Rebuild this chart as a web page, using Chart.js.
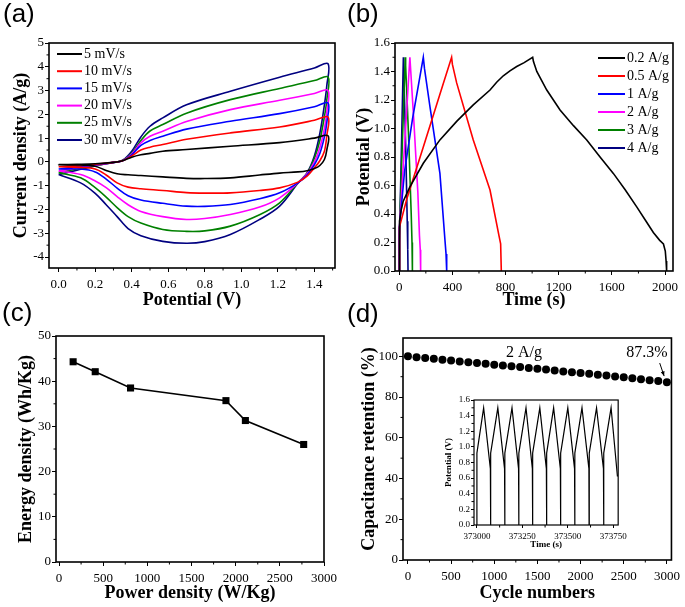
<!DOCTYPE html>
<html>
<head>
<meta charset="utf-8">
<script src="https://cdn.jsdelivr.net/npm/chart.js@4/dist/chart.umd.min.js"></script>
<style>
    html, body { margin: 0; padding: 0; background: #fff; }
    #fig { position: relative; width: 685px; height: 607px; overflow: hidden; background: #fff; }
    #fig canvas { position: absolute; }
    .tag { position: absolute; font-family: "Liberation Sans", Arial, sans-serif; font-size: 26px; line-height: 1; color: #000; }
</style>
</head>
<body>
<div id="fig">
    <canvas id="cv-chart" width="342" height="312" style="left:0;top:0"></canvas>
    <canvas id="gcd-chart" width="343" height="312" style="left:342px;top:0"></canvas>
    <canvas id="ragone-chart" width="342" height="307" style="left:0;top:300px"></canvas>
    <canvas id="cycle-chart" width="343" height="307" style="left:342px;top:300px"></canvas>
    <canvas id="inset-chart" width="200" height="160" style="left:430px;top:392px"></canvas>
    <div class="tag" style="left:3px;top:0">(a)</div>
    <div class="tag" style="left:347px;top:0">(b)</div>
    <div class="tag" style="left:2px;top:299px">(c)</div>
    <div class="tag" style="left:347px;top:300px">(d)</div>
</div>
<script>
const SERIF = '"Liberation Serif", "Times New Roman", serif';

// (a) CV - dòng quét thuận (upper) và quét ngược (lower)
const scanRates = ['5 mV/s', '10 mV/s', '15 mV/s', '20 mV/s', '25 mV/s', '30 mV/s'];
const cvColors = ['#000000', '#ff0000', '#0000ff', '#ff00ff', '#008000', '#000080'];
const potentialUp = [0, 0.1, 0.2, 0.3, 0.35, 0.4, 0.45, 0.5, 0.57, 0.7, 0.94, 1.21, 1.4, 1.475];
const currentUp5 = [-0.11, -0.1, -0.08, -0.02, 0.05, 0.2, 0.3, 0.36, 0.45, 0.52, 0.66, 0.81, 1.0, 1.1];
const currentUp10 = [-0.2, -0.15, -0.1, -0.02, 0.05, 0.25, 0.5, 0.62, 0.73, 0.95, 1.22, 1.47, 1.75, 1.89];
const currentUp15 = [-0.3, -0.2, -0.12, -0.02, 0.05, 0.3, 0.7, 0.9, 1.08, 1.38, 1.71, 2.03, 2.32, 2.48];
const currentUp20 = [-0.38, -0.25, -0.14, -0.02, 0.05, 0.33, 0.8, 1.08, 1.29, 1.7, 2.2, 2.59, 2.88, 3.01];
const currentUp25 = [-0.45, -0.3, -0.16, -0.02, 0.06, 0.36, 0.9, 1.3, 1.57, 2.05, 2.62, 3.09, 3.42, 3.57];
const currentUp30 = [-0.53, -0.35, -0.17, -0.02, 0.07, 0.45, 1.05, 1.5, 1.85, 2.4, 2.97, 3.56, 3.95, 4.13];
const potentialDown = [1.468, 1.455, 1.43, 1.4, 1.36, 1.31, 1.21, 1.1, 0.94, 0.8, 0.7, 0.57, 0.45, 0.38, 0.32, 0.26, 0.2, 0.12, 0];
const currentDown5 = [0.5, 0.1, -0.15, -0.28, -0.37, -0.42, -0.47, -0.55, -0.67, -0.7, -0.69, -0.63, -0.57, -0.54, -0.5, -0.36, -0.18, -0.13, -0.12];
const currentDown10 = [1.1, 0.45, 0.05, -0.25, -0.6, -0.85, -1.09, -1.2, -1.3, -1.31, -1.29, -1.2, -1.13, -1.06, -0.88, -0.55, -0.3, -0.23, -0.2];
const currentDown15 = [1.65, 1.05, 0.35, -0.12, -0.55, -0.88, -1.3, -1.55, -1.79, -1.87, -1.86, -1.74, -1.6, -1.42, -1.1, -0.72, -0.42, -0.3, -0.3];
const currentDown20 = [2.1, 1.4, 0.6, 0.0, -0.5, -0.88, -1.51, -1.9, -2.21, -2.38, -2.42, -2.3, -2.08, -1.8, -1.46, -1.08, -0.8, -0.53, -0.38];
const currentDown25 = [2.6, 1.9, 0.9, 0.15, -0.48, -0.88, -1.72, -2.22, -2.7, -2.9, -2.92, -2.84, -2.57, -2.3, -1.92, -1.48, -1.08, -0.67, -0.45];
const currentDown30 = [3.2, 2.4, 1.2, 0.25, -0.46, -0.9, -1.86, -2.42, -3.05, -3.35, -3.42, -3.34, -3.1, -2.8, -2.3, -1.8, -1.32, -0.88, -0.53];
const cvXTicks = [0, 0.2, 0.4, 0.6, 0.8, 1.0, 1.2, 1.4];
const cvYTicks = [-4, -3, -2, -1, 0, 1, 2, 3, 4, 5];

// (b) GCD
const currentDensities = ['0.2 A/g', '0.5 A/g', '1 A/g', '2 A/g', '3 A/g', '4 A/g'];
const gcdColors = ['#000000', '#ff0000', '#0000ff', '#ff00ff', '#008000', '#000080'];
const time02 = [0, 2, 15, 30, 80, 181, 306, 432, 557, 683, 733, 783, 833, 884, 940, 1004, 1010, 1035, 1110, 1210, 1311, 1411, 1511, 1611, 1700, 1787, 1850, 1912, 1960, 1988, 2002, 2008, 2012];
const pot02 = [0, 0.35, 0.43, 0.49, 0.59, 0.756, 0.92, 1.05, 1.166, 1.27, 1.325, 1.37, 1.405, 1.435, 1.462, 1.5, 1.47, 1.4, 1.27, 1.13, 1.02, 0.92, 0.8, 0.685, 0.57, 0.45, 0.36, 0.27, 0.215, 0.19, 0.14, 0.07, 0];
const time05 = [0, 2, 55, 181, 306, 394, 400, 432, 557, 683, 750, 763, 768];
const pot05 = [0, 0.31, 0.5, 0.87, 1.24, 1.5, 1.45, 1.32, 0.92, 0.568, 0.25, 0.19, 0];
const time1 = [0, 1, 40, 100, 181, 190, 231, 306, 344, 352, 357];
const pot1 = [0, 0.3, 0.7, 1.07, 1.5, 1.42, 1.154, 0.685, 0.216, 0.12, 0];
const time2 = [0, 1, 40, 80, 84, 110, 140, 152, 158, 161];
const pot2 = [0, 0.3, 0.88, 1.5, 1.44, 1.05, 0.55, 0.25, 0.15, 0];
const time3 = [0, 1, 20, 45, 48, 70, 90, 96, 99];
const pot3 = [0, 0.25, 0.8, 1.5, 1.44, 0.95, 0.4, 0.2, 0];
const time4 = [0, 1, 15, 31, 33, 48, 60, 64, 66];
const pot4 = [0, 0.2, 0.8, 1.5, 1.44, 0.9, 0.35, 0.15, 0];
const gcdXTicks = [0, 400, 800, 1200, 1600, 2000];
const gcdYTicks = [0, 0.2, 0.4, 0.6, 0.8, 1.0, 1.2, 1.4, 1.6];

// (c) Ragone
const powerDensity = [160, 410, 810, 1890, 2110, 2770];
const energyDensity = [44.3, 42.1, 38.5, 35.7, 31.3, 26.0];
const ragoneXTicks = [0, 500, 1000, 1500, 2000, 2500, 3000];
const ragoneYTicks = [0, 10, 20, 30, 40, 50];

// (d) Độ bền chu kỳ
const cycleNumbers = [0, 100, 200, 300, 400, 500, 600, 700, 800, 900, 1000, 1100, 1200, 1300, 1400, 1500,
    1600, 1700, 1800, 1900, 2000, 2100, 2200, 2300, 2400, 2500, 2600, 2700, 2800, 2900, 3000];
const retention = [100, 99.6, 99.2, 98.8, 98.3, 97.9, 97.5, 97.1, 96.7, 96.3, 95.9, 95.5, 95.1, 94.7, 94.3, 93.9,
    93.5, 93.1, 92.6, 92.2, 91.8, 91.4, 91.0, 90.6, 90.1, 89.7, 89.2, 88.8, 88.3, 87.9, 87.3];
const cycleXTicks = [0, 500, 1000, 1500, 2000, 2500, 3000];
const cycleYTicks = [0, 20, 40, 60, 80, 100];
const cycleNotes = ['2 A/g', '87.3%'];
const cycleNoteX = [1344, 2770];
const cycleNoteY = [101.5, 101.5];
const arrowFrom = [2917, 96.7];
const arrowTo = [2968, 90.3];

// inset: GCD sau nhiều chu kỳ
const insetTime = [
    373000, 373000, 373037, 373074, 373075,
    373076, 373076, 373115, 373152, 373153,
    373154, 373154, 373193, 373229, 373230,
    373231, 373231, 373270, 373305, 373306,
    373307, 373307, 373346, 373382, 373383,
    373384, 373384, 373422, 373459, 373460,
    373461, 373461, 373500, 373537, 373538,
    373539, 373539, 373578, 373616, 373617,
    373618, 373618, 373658, 373696, 373697,
    373698, 373698, 373738, 373773];
const insetPot = [
    0, 0.92, 1.5, 0.72, 0,
    0, 0.92, 1.5, 0.72, 0,
    0, 0.92, 1.5, 0.72, 0,
    0, 0.92, 1.5, 0.72, 0,
    0, 0.92, 1.5, 0.72, 0,
    0, 0.92, 1.5, 0.72, 0,
    0, 0.92, 1.5, 0.72, 0,
    0, 0.92, 1.5, 0.72, 0,
    0, 0.92, 1.5, 0.72, 0,
    0, 0.92, 1.5, 0.62];
const insetXTicks = [373000, 373250, 373500, 373750];
const insetYTicks = [0, 0.2, 0.4, 0.6, 0.8, 1.0, 1.2, 1.4, 1.6];

// khung + vạch chia phụ
const frame = {
    id: 'frame',
    afterDraw(chart, args, o) {
        const { ctx, chartArea: a } = chart;
        ctx.save();
        ctx.strokeStyle = '#000';
        ctx.lineWidth = o.width || 1.6;
        ctx.strokeRect(a.left, a.top, a.right - a.left, a.bottom - a.top);
        ctx.lineWidth = 1;
        ['x', 'y'].forEach(id => {
            const s = chart.scales[id];
            const t = s.ticks;
            if (t.length < 2) return;
            const step = t[1].value - t[0].value;
            for (let v = t[0].value - step / 2; v <= s.max + 1e-9; v += step) {
                if (v < s.min) continue;
                const p = s.getPixelForValue(v);
                ctx.beginPath();
                if (id === 'x') { ctx.moveTo(p, a.bottom); ctx.lineTo(p, a.bottom + 2.5); }
                else { ctx.moveTo(a.left, p); ctx.lineTo(a.left - 2.5, p); }
                ctx.stroke();
            }
        });
        ctx.restore();
    }
};

// chú thích bên trong vùng vẽ
const insideLegend = {
    id: 'insideLegend',
    afterDraw(chart, args, o) {
        if (!o.show) return;
        const { ctx, chartArea: a } = chart;
        ctx.save();
        ctx.font = '14px ' + SERIF;
        ctx.textBaseline = 'middle';
        chart.data.datasets.forEach((ds, i) => {
            const x = a.left + o.x;
            const y = a.top + o.y + i * o.rowH;
            ctx.strokeStyle = ds.borderColor;
            ctx.lineWidth = 2;
            ctx.beginPath();
            ctx.moveTo(x, y);
            ctx.lineTo(x + o.lineLen, y);
            ctx.stroke();
            ctx.fillStyle = '#000';
            ctx.fillText(ds.label, x + o.lineLen + 2, y);
        });
        ctx.restore();
    }
};

// ghi chú cho (d)
const notes = {
    id: 'notes',
    afterDraw(chart, args, o) {
        if (!o.show) return;
        const { ctx, scales: { x, y } } = chart;
        ctx.save();
        ctx.font = '16px ' + SERIF;
        ctx.fillStyle = '#000';
        ctx.textAlign = 'center';
        ctx.textBaseline = 'middle';
        cycleNotes.forEach((t, i) => ctx.fillText(t, x.getPixelForValue(cycleNoteX[i]), y.getPixelForValue(cycleNoteY[i])));
        const x0 = x.getPixelForValue(arrowFrom[0]), y0 = y.getPixelForValue(arrowFrom[1]);
        const x1 = x.getPixelForValue(arrowTo[0]), y1 = y.getPixelForValue(arrowTo[1]);
        ctx.strokeStyle = '#000';
        ctx.lineWidth = 1;
        ctx.beginPath(); ctx.moveTo(x0, y0); ctx.lineTo(x1, y1); ctx.stroke();
        const ang = Math.atan2(y1 - y0, x1 - x0);
        ctx.beginPath();
        ctx.moveTo(x1, y1);
        ctx.lineTo(x1 - 5 * Math.cos(ang - 0.4), y1 - 5 * Math.sin(ang - 0.4));
        ctx.lineTo(x1 - 5 * Math.cos(ang + 0.4), y1 - 5 * Math.sin(ang + 0.4));
        ctx.closePath();
        ctx.fill();
        ctx.restore();
    }
};

main();

function main() {
    cvChart();
    gcdChart();
    ragoneChart();
    cycleChart();
    insetChart();
}

function axis(o) {
    return {
        type: 'linear',
        min: o.min,
        max: o.max,
        afterBuildTicks: s => { s.ticks = o.ticks.map(v => ({ value: v })); },
        afterFit: s => { if (s.isHorizontal()) s.height = o.size; else s.width = o.size; },
        grid: { drawOnChartArea: false, drawTicks: true, tickLength: o.tickLength || 4, color: '#000', lineWidth: 1 },
        border: { display: false },
        ticks: {
            color: '#000',
            font: { family: SERIF, size: o.tickSize || 13 },
            padding: o.tickPad || 1,
            maxRotation: 0,
            autoSkip: false,
            callback: o.fmt || (v => String(v))
        },
        title: {
            display: true,
            text: o.title,
            color: '#000',
            font: { family: SERIF, size: o.titleSize || 18, weight: 'bold' },
            padding: o.titlePad
        }
    };
}

function baseOptions(pad, xAxis, yAxis, extra) {
    return {
        responsive: false,
        animation: false,
        layout: { padding: pad },
        scales: { x: xAxis, y: yAxis },
        plugins: Object.assign({ legend: { display: false }, tooltip: { enabled: false } }, extra)
    };
}

function pairs(xs, ys) {
    return xs.map((v, i) => ({ x: v, y: ys[i] }));
}

// (a) Đường CV
function cvChart() {
    const ups = [currentUp5, currentUp10, currentUp15, currentUp20, currentUp25, currentUp30];
    const downs = [currentDown5, currentDown10, currentDown15, currentDown20, currentDown25, currentDown30];
    const datasets = scanRates.map((label, i) => {
        const pts = pairs(potentialUp, ups[i]).concat(pairs(potentialDown, downs[i]));
        pts.push(pts[0]);
        return {
            label,
            data: pts,
            showLine: true,
            borderColor: cvColors[i],
            borderWidth: 1.6,
            pointRadius: 0,
            tension: 0.35,
            fill: false
        };
    });
    new Chart(document.getElementById('cv-chart'), {
        type: 'scatter',
        data: { datasets },
        options: baseOptions({ top: 43, right: 7, left: 0, bottom: 0 },
            axis({ min: -0.053, max: 1.513, ticks: cvXTicks, size: 44, title: 'Potential (V)', titlePad: { bottom: 1 }, tickPad: 5, fmt: v => v.toFixed(1) }),
            axis({ min: -4.46, max: 5, ticks: cvYTicks, size: 49, title: 'Current density (A/g)', titlePad: { top: 11 } }),
            { insideLegend: { show: true, x: 8, y: 11, rowH: 17.2, lineLen: 25 } }),
        plugins: [frame, insideLegend]
    });
}

// (b) Đường GCD
function gcdChart() {
    const times = [time02, time05, time1, time2, time3, time4];
    const pots = [pot02, pot05, pot1, pot2, pot3, pot4];
    const datasets = currentDensities.map((label, i) => ({
        label,
        data: pairs(times[i], pots[i]),
        showLine: true,
        borderColor: gcdColors[i],
        borderWidth: 1.6,
        pointRadius: 0,
        tension: 0,
        fill: false
    }));
    new Chart(document.getElementById('gcd-chart'), {
        type: 'scatter',
        data: { datasets },
        options: baseOptions({ top: 43, right: 12, left: 0, bottom: 0 },
            axis({ min: -32, max: 2060, ticks: gcdXTicks, size: 41, title: 'Time (s)', titlePad: { bottom: 1 }, tickPad: 5 }),
            axis({ min: 0, max: 1.6, ticks: gcdYTicks, size: 53, title: 'Potential (V)', titlePad: { top: 12 }, fmt: v => v.toFixed(1) }),
            { insideLegend: { show: true, x: 203, y: 15, rowH: 18, lineLen: 27 } }),
        plugins: [frame, insideLegend]
    });
}

// (c) Mật độ năng lượng - công suất
function ragoneChart() {
    new Chart(document.getElementById('ragone-chart'), {
        type: 'scatter',
        data: {
            datasets: [{
                label: 'Energy density',
                data: pairs(powerDensity, energyDensity),
                showLine: true,
                borderColor: '#000',
                backgroundColor: '#000',
                borderWidth: 1.6,
                pointStyle: 'rect',
                pointRadius: 5,
                pointBorderWidth: 0
            }]
        },
        options: baseOptions({ top: 36, right: 17, left: 0, bottom: 0 },
            axis({ min: -34, max: 3000, ticks: ragoneXTicks, size: 45, title: 'Power density (W/Kg)', titlePad: { bottom: 3 }, tickPad: 5 }),
            axis({ min: 0, max: 50, ticks: ragoneYTicks, size: 56, title: 'Energy density (Wh/Kg)', titlePad: { top: 16 } }),
            {}),
        plugins: [frame]
    });
}

// (d) Độ bền sau 3000 chu kỳ
function cycleChart() {
    new Chart(document.getElementById('cycle-chart'), {
        type: 'scatter',
        data: {
            datasets: [{
                label: 'Capacitance retention',
                data: pairs(cycleNumbers, retention),
                backgroundColor: '#000',
                borderColor: '#000',
                pointRadius: 4,
                pointBorderWidth: 0
            }]
        },
        options: baseOptions({ top: 38, right: 7, left: 0, bottom: 0 },
            axis({ min: -57, max: 3053, ticks: cycleXTicks, size: 47, title: 'Cycle numbers', titlePad: { bottom: 3 }, tickPad: 5 }),
            axis({ min: 0, max: 109, ticks: cycleYTicks, size: 61, title: 'Capacitance retention (%)', titlePad: { top: 17 } }),
            { notes: { show: true } }),
        plugins: [frame, notes]
    });
}

// hình nhỏ trong (d)
function insetChart() {
    new Chart(document.getElementById('inset-chart'), {
        type: 'scatter',
        data: {
            datasets: [{
                label: 'Potential',
                data: pairs(insetTime, insetPot),
                showLine: true,
                borderColor: '#000',
                borderWidth: 1.2,
                pointRadius: 0,
                tension: 0
            }]
        },
        options: baseOptions({ top: 8, right: 7, left: 0, bottom: 0 },
            axis({ min: 372984, max: 373777, ticks: insetXTicks, size: 27, title: 'Time (s)', titlePad: { bottom: 1.5 }, tickSize: 9, titleSize: 9, tickLength: 3, tickPad: 3 }),
            axis({ min: 0, max: 1.6, ticks: insetYTicks, size: 44, title: 'Potential (V)', titlePad: { top: 13 }, tickSize: 9, titleSize: 9, tickLength: 3, fmt: v => v.toFixed(1) }),
            { frame: { width: 1.2 } }),
        plugins: [frame]
    });
}
</script>
</body>
</html>
